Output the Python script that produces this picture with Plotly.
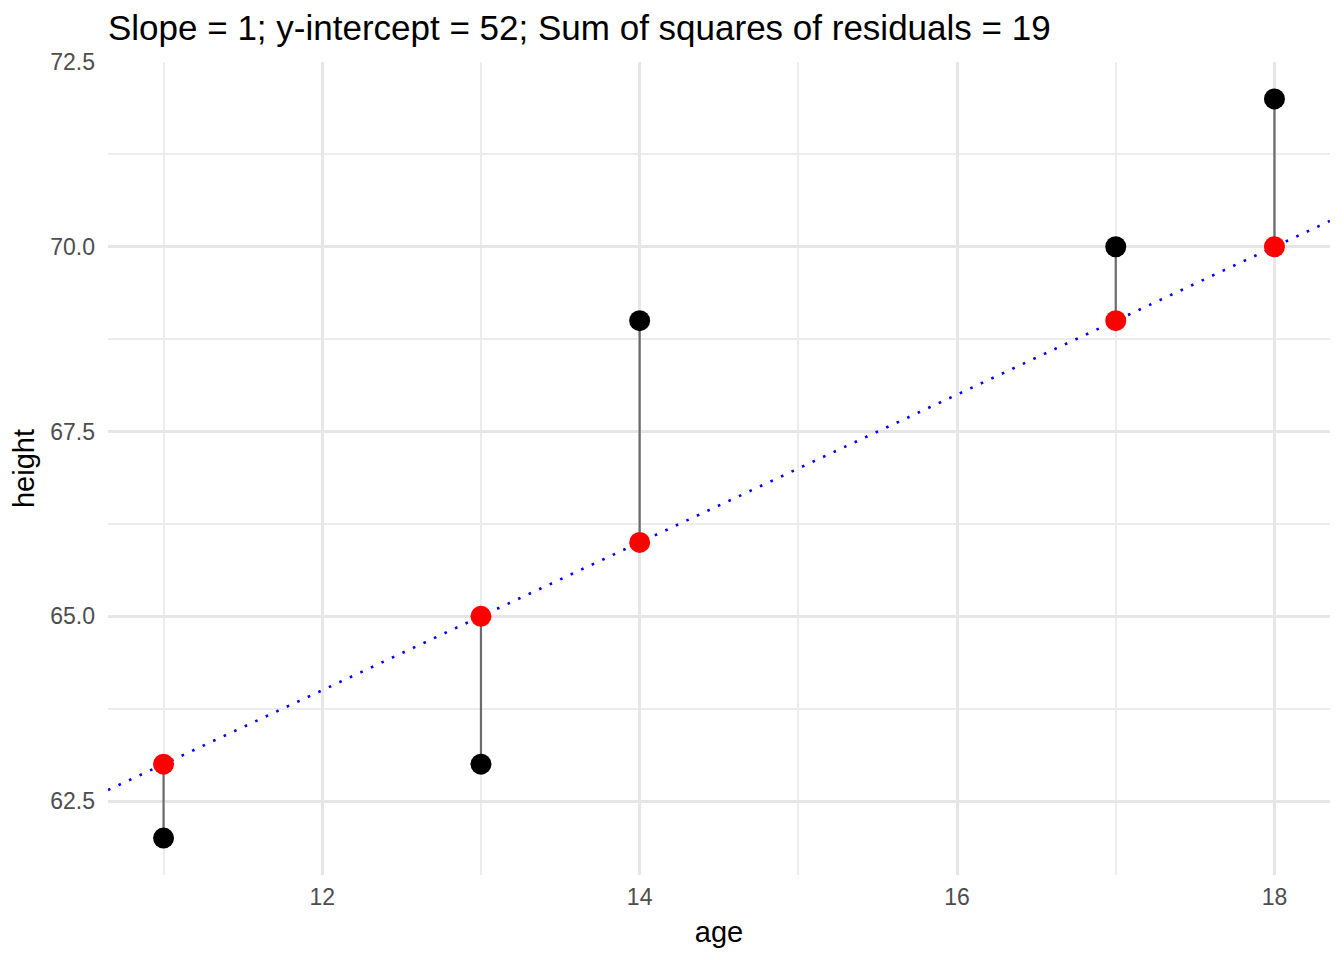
import plotly.graph_objects as go

# data
age = [11, 13, 14, 17, 18]
height = [62, 63, 69, 70, 72]
slope = 1
intercept = 52

predicted = [slope * a + intercept for a in age]
ssr = sum((h - p) ** 2 for h, p in zip(height, predicted))


def expand(lo, hi, mult=0.05):
    """ggplot-style 5% expansion of a data range"""
    pad = (hi - lo) * mult
    return [lo - pad, hi + pad]


x_range = expand(min(age), max(age))
all_y = height + predicted
y_range = expand(min(all_y), max(all_y))

fig = go.Figure()

# residual segments
for a, h, p in zip(age, height, predicted):
    fig.add_trace(go.Scatter(x=[a, a], y=[h, p], mode='lines',
                             line=dict(color='#6b6b6b', width=2.2),
                             hoverinfo='skip', showlegend=False))

# fitted line across the whole panel
fig.add_trace(go.Scatter(x=x_range, y=[slope * x + intercept for x in x_range],
                         mode='lines', line=dict(color='blue', width=2.6, dash='2.6px,9px'),
                         showlegend=False))

fig.add_trace(go.Scatter(x=age, y=height, mode='markers',
                         marker=dict(color='black', size=21), showlegend=False))
fig.add_trace(go.Scatter(x=age, y=predicted, mode='markers',
                         marker=dict(color='red', size=21), showlegend=False))

grid = '#e6e6e6'
minor_grid = '#ececec'
font_family = 'Liberation Sans, Arial'
tick_font = dict(family=font_family, size=23, color='#4d4d4d')

# page has an 8px body margin, so the figure is 8px smaller and margins are shifted
fig.update_layout(
    width=1336, height=952,
    plot_bgcolor='white', paper_bgcolor='white',
    margin=dict(l=100, r=14, t=54, b=85),
    title=dict(text=f'Slope = {slope}; y-intercept = {intercept}; Sum of squares of residuals = {ssr}',
               x=100 / 1336, xanchor='left', y=1 - 20 / 952, yanchor='middle',
               font=dict(family=font_family, size=35, color='black')),
    font=dict(family=font_family),
)

fig.update_xaxes(range=x_range, tickvals=[12, 14, 16, 18], ticktext=['12', '14', '16', '18'],
                 showgrid=True, gridcolor=grid, gridwidth=3, zeroline=False,
                 showline=False, ticks='', tickfont=tick_font, ticklabelstandoff=6,
                 minor=dict(tickvals=[11, 13, 15, 17], showgrid=True,
                            gridcolor=minor_grid, gridwidth=1.6),
                 title=dict(text='age', font=dict(size=29, color='black'), standoff=12))
fig.update_yaxes(range=y_range, tickvals=[62.5, 65, 67.5, 70, 72.5],
                 ticktext=['62.5', '65.0', '67.5', '70.0', '72.5'],
                 showgrid=True, gridcolor=grid, gridwidth=3, zeroline=False,
                 showline=False, ticks='', tickfont=tick_font, ticklabelstandoff=12,
                 minor=dict(tickvals=[63.75, 66.25, 68.75, 71.25], showgrid=True,
                            gridcolor=minor_grid, gridwidth=1.6),
                 title=dict(text='height', font=dict(size=29, color='black'), standoff=8))

fig.write_html("out.html")
